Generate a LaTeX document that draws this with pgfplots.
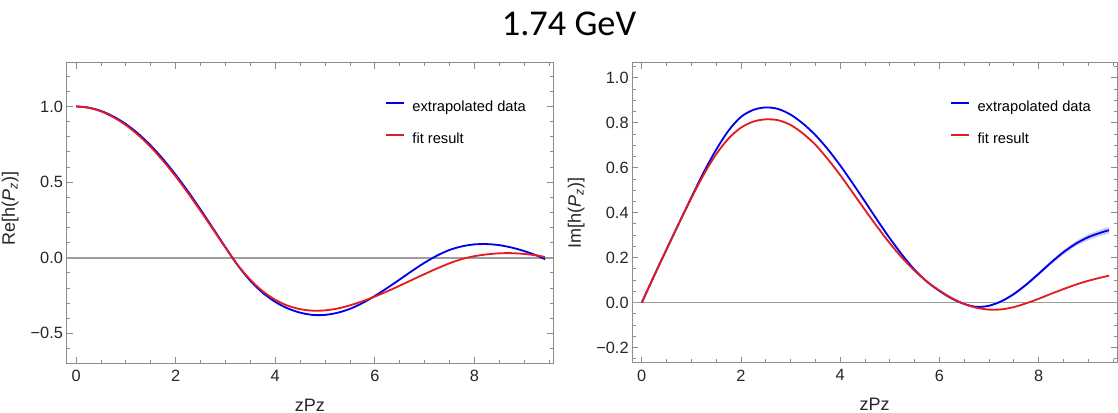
\documentclass[border=0pt]{standalone}
\usepackage{pgfplots}
\pgfplotsset{compat=1.18}
\usepackage{fontspec}
\setmainfont{Liberation Sans}
\newfontfamily\titlefont{Carlito}

\definecolor{mblue}{rgb}{0.0,0.0,0.92}
\definecolor{mred}{rgb}{0.89,0.11,0.13}
\definecolor{mband}{rgb}{0.80,0.80,0.97}
\definecolor{framegray}{gray}{0.55}
\definecolor{zerogray}{gray}{0.62}

\pgfplotsset{
  mma/.style={
    scale only axis,
    axis line style={framegray, line width=0.6pt},
    tick style={framegray, line width=0.5pt},
    major tick length=3.6pt, minor tick length=2pt,
    ticklabel style={font=\fontsize{9.8}{11}\selectfont, text=black!85},
    label style={font=\fontsize{10.8}{12}\selectfont, text=black!85},
    xmin=-0.19, xmax=9.58,
    xtick={0,2,4,6,8}, xticklabels={0,2,4,6,8},
    minor xtick={0.5,1,...,9.5},
    xticklabel style={yshift=-0.7pt},
    yticklabel style={xshift=1.3pt},
    xlabel={zPz},
    xlabel style={at={(axis description cs:0.5,-0.159)}, anchor=base},
    legend style={draw=none, fill=none, inner sep=0pt, outer sep=0pt,
      font=\fontsize{8.8}{10}\selectfont, column sep=4.6pt, row sep=11.3pt,
      nodes={inner sep=0pt, text height=6.5pt, text depth=1.8pt}},
    legend cell align=left,
    legend image code/.code={\path (0pt,0pt); \draw[##1] (0pt,2.8pt) -- (10.8pt,2.8pt);},
    every axis plot/.append style={line width=1.1pt},
  }
}

\begin{document}
\begin{tikzpicture}
\useasboundingbox (0,0) rectangle (670.8pt,247.8pt);

\node[font=\titlefont\fontsize{21.8}{26}\selectfont] at (341.4pt,233.4pt) {1.74 GeV};

% Real part
\begin{axis}[mma,
  at={(40.0pt,29.8pt)}, anchor=south west,
  width=291.8pt, height=180.4pt,
  ymin=-0.698, ymax=1.289,
  ytick={-0.5,0,0.5,1}, yticklabels={−0.5,0.0,0.5,1.0},
  minor ytick={-0.6,-0.4,-0.3,-0.2,-0.1,0.1,0.2,0.3,0.4,0.6,0.7,0.8,0.9,1.1,1.2},
  ylabel={Re[h(\textit{P}\textsubscript{\textit{z}})]},
  ylabel style={at={(axis description cs:-0.1063,0.515)}, anchor=base},
  legend style={at={(0.6545,0.8743)}, anchor=north west},
]
\addplot[zerogray, line width=1pt, forget plot] coordinates {(-1,0) (10,0)};
\addplot[mblue, smooth] coordinates {
(0,1.000) (0.25,0.992) (0.5,0.970) (0.75,0.933) (1.0,0.883) (1.25,0.819)
(1.5,0.741) (1.75,0.650) (2.0,0.548) (2.25,0.437) (2.5,0.318) (2.75,0.194)
(3.0,0.069) (3.25,-0.052) (3.5,-0.153) (3.75,-0.232) (4.0,-0.292) (4.25,-0.335)
(4.5,-0.363) (4.75,-0.378) (5.0,-0.378) (5.25,-0.364) (5.5,-0.338) (5.75,-0.300)
(6.0,-0.253) (6.25,-0.200) (6.5,-0.144) (6.75,-0.087) (7.0,-0.033) (7.25,0.014)
(7.5,0.051) (7.75,0.075) (8.0,0.088) (8.25,0.090) (8.5,0.083) (8.75,0.067)
(9.0,0.044) (9.25,0.015) (9.42,-0.010)
};
\addlegendentry{extrapolated data}
\addplot[mred, smooth] coordinates {
(0,1.000) (0.25,0.991) (0.5,0.967) (0.75,0.928) (1.0,0.876) (1.25,0.810)
(1.5,0.731) (1.75,0.639) (2.0,0.537) (2.25,0.426) (2.5,0.309) (2.75,0.188)
(3.0,0.066) (3.25,-0.050) (3.5,-0.146) (3.75,-0.222) (4.0,-0.278) (4.25,-0.317)
(4.5,-0.340) (4.75,-0.350) (5.0,-0.348) (5.25,-0.336) (5.5,-0.315) (5.75,-0.288)
(6.0,-0.257) (6.25,-0.222) (6.5,-0.185) (6.75,-0.146) (7.0,-0.108) (7.25,-0.071)
(7.5,-0.037) (7.75,-0.009) (8.0,0.010) (8.25,0.022) (8.5,0.029) (8.75,0.030)
(9.0,0.025) (9.25,0.015) (9.42,0.005)
};
\addlegendentry{fit result}
\end{axis}

% Imaginary part
\begin{axis}[mma,
  at={(379.4pt,30.2pt)}, anchor=south west,
  width=290.8pt, height=180pt,
  ymin=-0.267, ymax=1.067,
  ytick={-0.2,0,0.2,0.4,0.6,0.8,1.0}, yticklabels={−0.2,0.0,0.2,0.4,0.6,0.8,1.0},
  minor ytick={-0.25,-0.15,-0.1,-0.05,0.05,0.1,0.15,0.25,0.3,0.35,0.45,0.5,0.55,0.65,0.7,0.75,0.85,0.9,0.95,1.05},
  ylabel={Im[h(\textit{P}\textsubscript{\textit{z}})]},
  ylabel style={at={(axis description cs:-0.106,0.5)}, anchor=base},
  legend style={at={(0.6555,0.874)}, anchor=north west},
]
\addplot[zerogray, line width=1pt, forget plot] coordinates {(-1,0) (10,0)};
\addplot[fill=mband, draw=none, forget plot] coordinates {
(7.0,-0.010) (7.25,0.011) (7.5,0.044) (7.75,0.087) (8.0,0.136) (8.25,0.187)
(8.5,0.234) (8.75,0.273) (9.0,0.304) (9.25,0.325) (9.42,0.337)
(9.42,0.307) (9.25,0.297) (9.0,0.278) (8.75,0.251) (8.5,0.214) (8.25,0.169)
(8.0,0.120) (7.75,0.073) (7.5,0.032) (7.25,0.001) (7.0,-0.018)
} -- cycle;
\addplot[mblue, smooth] coordinates {
(0,0.000) (0.25,0.120) (0.5,0.237) (0.75,0.353) (1.0,0.468) (1.25,0.580)
(1.5,0.680) (1.75,0.765) (2.0,0.826) (2.25,0.857) (2.5,0.868) (2.75,0.861)
(3.0,0.836) (3.25,0.796) (3.5,0.745) (3.75,0.682) (4.0,0.610) (4.25,0.531)
(4.5,0.449) (4.75,0.366) (5.0,0.286) (5.25,0.212) (5.5,0.146) (5.75,0.093)
(6.0,0.052) (6.25,0.018) (6.5,-0.006) (6.75,-0.019) (7.0,-0.014) (7.25,0.006)
(7.5,0.038) (7.75,0.080) (8.0,0.128) (8.25,0.178) (8.5,0.224) (8.75,0.262)
(9.0,0.291) (9.25,0.311) (9.42,0.322)
};
\addlegendentry{extrapolated data}
\addplot[mred, smooth] coordinates {
(0,0.000) (0.25,0.120) (0.5,0.237) (0.75,0.353) (1.0,0.465) (1.25,0.570)
(1.5,0.660) (1.75,0.730) (2.0,0.778) (2.25,0.805) (2.5,0.815) (2.75,0.811)
(3.0,0.790) (3.25,0.752) (3.5,0.702) (3.75,0.638) (4.0,0.567) (4.25,0.490)
(4.5,0.412) (4.75,0.336) (5.0,0.264) (5.25,0.199) (5.5,0.142) (5.75,0.093)
(6.0,0.054) (6.25,0.020) (6.5,-0.006) (6.75,-0.023) (7.0,-0.031) (7.25,-0.030)
(7.5,-0.020) (7.75,-0.003) (8.0,0.017) (8.25,0.039) (8.5,0.060) (8.75,0.080)
(9.0,0.097) (9.25,0.111) (9.42,0.120)
};
\addlegendentry{fit result}
\end{axis}
\end{tikzpicture}
\end{document}
